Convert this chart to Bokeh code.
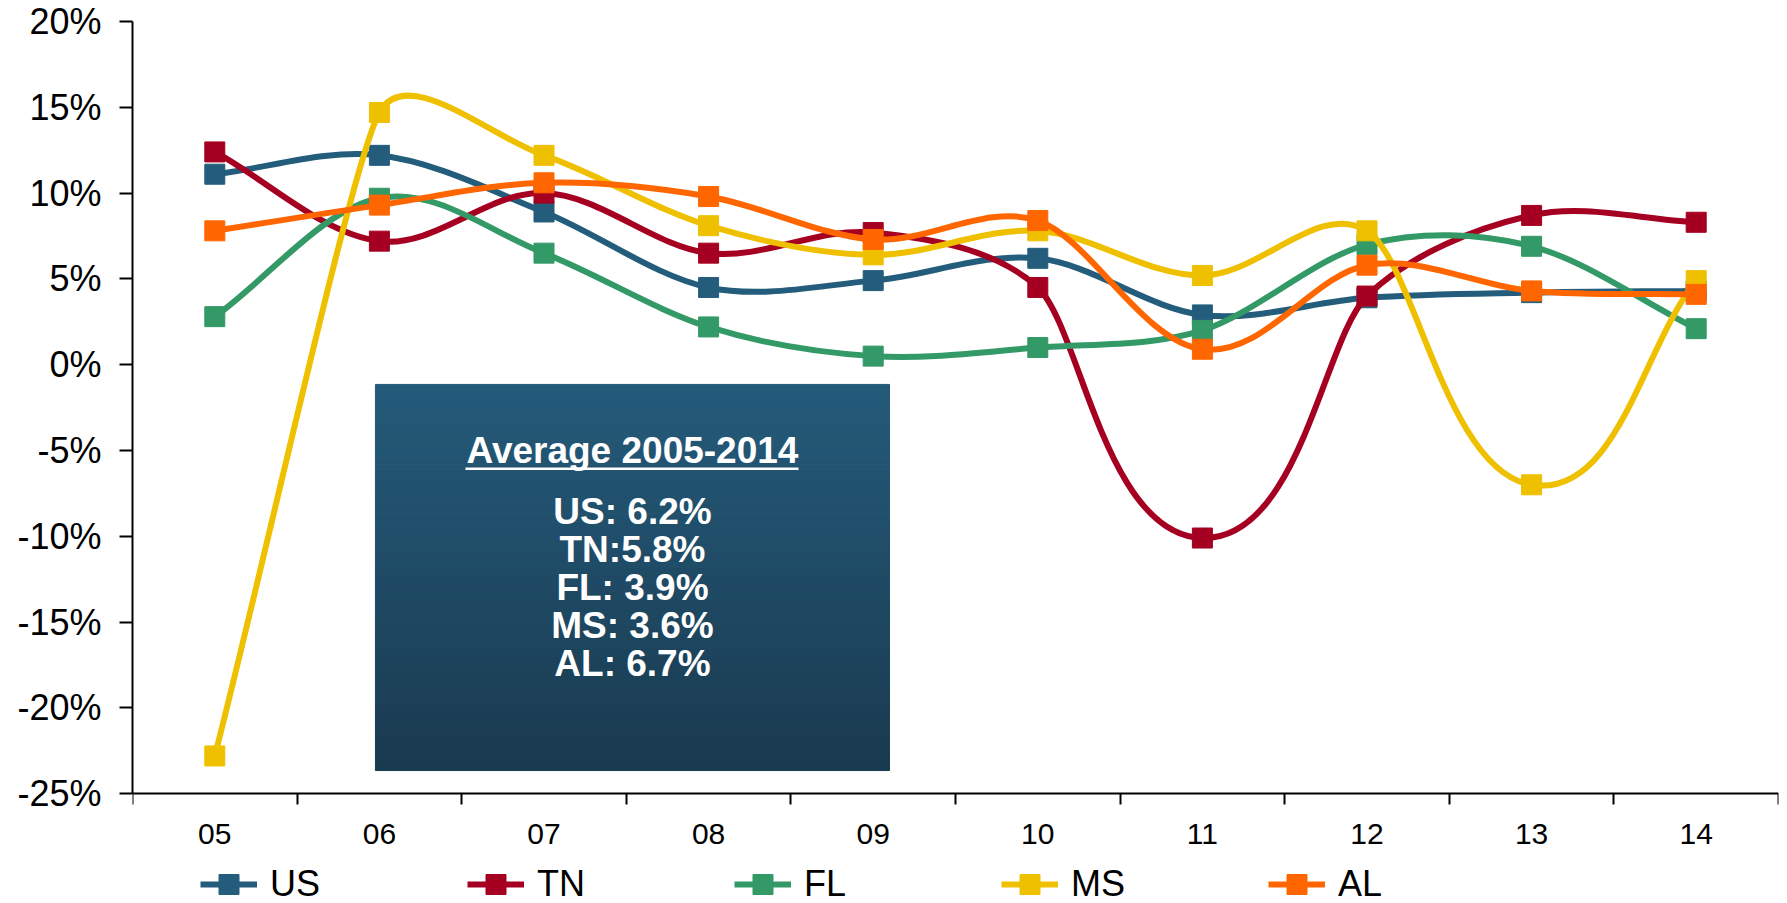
import numpy as np
from bokeh.plotting import figure
from bokeh.models import (ColumnDataSource, FixedTicker, Legend, LegendItem,
                          Range1d, Label)
from bokeh.embed import file_html
from bokeh.resources import INLINE

# ---------------- data ----------------
categories = ["05", "06", "07", "08", "09", "10", "11", "12", "13", "14"]
us = [11.1, 12.2, 8.9, 4.5, 4.9, 6.2, 2.9, 3.9, 4.2, 4.3]
tn = [12.4, 7.2, 10.0, 6.5, 7.7, 4.5, -10.1, 4.0, 8.7, 8.3]
fl = [2.8, 9.7, 6.5, 2.2, 0.5, 1.0, 2.0, 7.0, 6.9, 2.1]
ms = [-22.8, 14.7, 12.2, 8.1, 6.4, 7.8, 5.2, 7.8, -7.0, 4.9]
al = [7.8, 9.3, 10.6, 9.8, 7.3, 8.4, 0.9, 5.8, 4.3, 4.1]
series_names = ["US", "TN", "FL", "MS", "AL"]
y_ticks = [-25, -20, -15, -10, -5, 0, 5, 10, 15, 20]
avg_title = "Average 2005-2014"
avg_lines = ["US: 6.2%", "TN:5.8%", "FL: 3.9%", "MS: 3.6%", "AL: 6.7%"]

# ---------------- style ----------------
colors = ["#245d7c", "#a50021", "#339966", "#efc000", "#ff6600"]
FONT = "Liberation Sans"
PX_X = 164.6   # pixels per category (for smoothing in screen space)
PX_Y = 17.16   # pixels per percent point

W, H = 1787, 903
TOP = 21
Y_MAX, Y_AXIS = 20, -25
y_min = Y_MAX - (H - TOP) / PX_Y   # frame extends below the axis to hold the legend

p = figure(width=W, height=H, output_backend="svg", toolbar_location=None,
           x_range=Range1d(-0.5, 9.5), y_range=Range1d(y_min, Y_MAX),
           min_border_left=132, min_border_right=9, min_border_top=TOP,
           min_border_bottom=0)
p.outline_line_color = None
p.xgrid.visible = False
p.ygrid.visible = False
p.background_fill_color = "white"
p.border_fill_color = "white"

# ---------------- gradient text box ----------------
bx0, bx1, by_top, by_bot = 0.976, 4.099, -1.15, -23.65
n = 48
top_rgb = np.array([0x24, 0x5b, 0x7a], float)
bot_rgb = np.array([0x1a, 0x3a, 0x50], float)
edges = np.linspace(by_top, by_bot, n + 1)
cols = []
for i in range(n):
    t = (i + 0.5) / n
    c = top_rgb * (1 - t) + bot_rgb * t
    cols.append("#%02x%02x%02x" % tuple(int(round(v)) for v in c))
p.quad(left=[bx0] * n, right=[bx1] * n, top=edges[:-1], bottom=edges[1:],
       fill_color=cols, line_color=cols, line_width=1)

cx = (bx0 + bx1) / 2
p.add_layout(Label(x=cx, y=-5.02, text=avg_title, text_align="center",
                   text_baseline="middle", text_font=FONT,
                   text_font_style="bold", text_font_size="37px",
                   text_color="white"))
p.segment(x0=[1.523], y0=[-6.07], x1=[3.546], y1=[-6.07],
          line_color="white", line_width=2.5)
for yv, txt in zip([-8.54, -10.76, -13.00, -15.22, -17.43], avg_lines):
    p.add_layout(Label(x=cx, y=yv, text=txt, text_align="center",
                       text_baseline="middle", text_font=FONT,
                       text_font_style="bold", text_font_size="37px",
                       text_color="white"))


# ---------------- smoothed lines (bezier segments) ----------------
def bezier_source(vals):
    xs = np.arange(len(vals), dtype=float)
    ys = np.array(vals, dtype=float)
    P = np.column_stack([xs * PX_X, ys * PX_Y])
    m = len(P)
    seg = [np.linalg.norm(P[i + 1] - P[i]) for i in range(m - 1)]
    D = np.zeros_like(P)
    R = np.zeros(m)           # control-arm length at each point
    for i in range(m):
        if i == 0:
            d = P[1] - P[0]
            R[i] = seg[0] / 3.0
        elif i == m - 1:
            d = P[-1] - P[-2]
            R[i] = seg[-1] / 3.0
        else:
            d = P[i + 1] - P[i - 1]
            R[i] = min(seg[i - 1], seg[i]) / 3.0
        D[i] = d / np.linalg.norm(d)
    x0, y0, x1, y1, cx0, cy0, cx1, cy1 = ([] for _ in range(8))
    for i in range(m - 1):
        c0 = P[i] + D[i] * min(R[i], seg[i] / 3.0)
        c1 = P[i + 1] - D[i + 1] * min(R[i + 1], seg[i] / 3.0)
        x0.append(xs[i]); y0.append(ys[i])
        x1.append(xs[i + 1]); y1.append(ys[i + 1])
        cx0.append(c0[0] / PX_X); cy0.append(c0[1] / PX_Y)
        cx1.append(c1[0] / PX_X); cy1.append(c1[1] / PX_Y)
    return ColumnDataSource(dict(x0=x0, y0=y0, x1=x1, y1=y1,
                                 cx0=cx0, cy0=cy0, cx1=cx1, cy1=cy1))


items = []
for name, vals, col in zip(series_names, [us, tn, fl, ms, al], colors):
    src = bezier_source(vals)
    br = p.bezier(x0="x0", y0="y0", x1="x1", y1="y1", cx0="cx0", cy0="cy0",
                  cx1="cx1", cy1="cy1", source=src, line_color=col,
                  line_width=6)
    sr = p.scatter(x=list(range(len(vals))), y=vals, marker="square", size=20,
                   fill_color=col, line_color=col)
    items.append(LegendItem(label=name, renderers=[br, sr]))

# ---------------- axes ----------------
xa = p.xaxis[0]
xa.fixed_location = Y_AXIS
xa.ticker = FixedTicker(ticks=list(range(len(categories))),
                        minor_ticks=[i - 0.5 for i in range(len(categories) + 1)])
xa.major_label_overrides = {i: c for i, c in enumerate(categories)}
xa.major_tick_out = 0
xa.major_tick_in = 0
xa.minor_tick_out = 11
xa.minor_tick_in = 0
xa.minor_tick_line_color = "black"
xa.minor_tick_line_width = 2
xa.axis_line_color = "black"
xa.axis_line_width = 2
xa.major_label_text_font = FONT
xa.major_label_text_font_size = "30px"
xa.major_label_text_color = "black"
xa.major_label_standoff = 19

ya = p.yaxis[0]
ya.bounds = (Y_AXIS, Y_MAX)
ya.ticker = FixedTicker(ticks=y_ticks)
ya.major_label_overrides = {t: f"{t}%" for t in y_ticks}
ya.major_tick_out = 13
ya.major_tick_in = 0
ya.major_tick_line_color = "black"
ya.major_tick_line_width = 2
ya.minor_tick_out = 0
ya.minor_tick_in = 0
ya.axis_line_color = "black"
ya.axis_line_width = 2
ya.major_label_text_font = FONT
ya.major_label_text_font_size = "36px"
ya.major_label_text_color = "black"
ya.major_label_standoff = 18

# ---------------- legend ----------------
legend = Legend(items=items, orientation="horizontal", location=(68, -6),
                padding=0, margin=0, spacing=17, glyph_width=57,
                glyph_height=50, label_height=50, label_width=180,
                label_standoff=13, label_text_font=FONT,
                label_text_font_size="36px", label_text_color="black",
                background_fill_alpha=0, border_line_alpha=0)
p.add_layout(legend)

open("out.html", "w").write(file_html(p, INLINE))
